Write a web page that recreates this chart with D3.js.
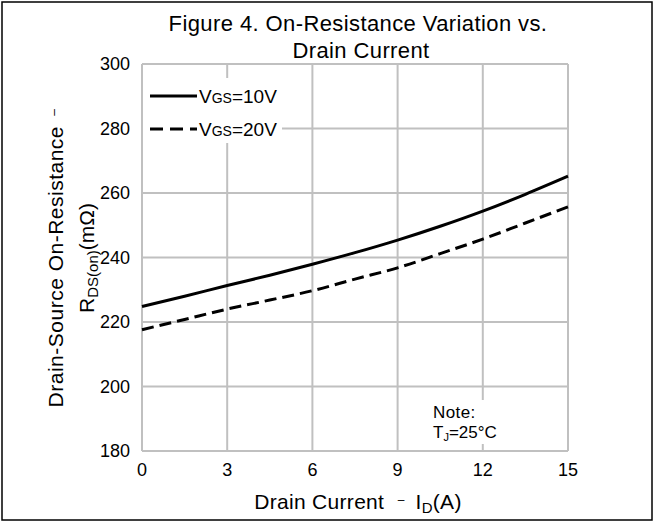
<!DOCTYPE html>
<html>
<head>
<meta charset="utf-8">
<script src="https://cdn.jsdelivr.net/npm/d3@7"></script>
<style>
  body { margin: 0; background: #fff; }
  text { font-family: "Liberation Sans", Arial, sans-serif; fill: #000; white-space: pre; }
</style>
</head>
<body>
<svg id="chart" width="656" height="524"></svg>
<script>
// drain current (A)
const current = [0, 1.5, 3, 4.5, 6, 7.5, 9, 10.5, 12, 13.5, 15]
// RDS(on) in mOhm
const rds10V = [224.8, 228.0, 231.3, 234.5, 237.9, 241.5, 245.4, 249.7, 254.4, 259.6, 265.2]
const rds20V = [217.6, 220.8, 224.0, 226.8, 229.7, 233.3, 236.8, 241.2, 245.7, 250.7, 255.7]
const xTicks = [0, 3, 6, 9, 12, 15]
const yTicks = [180, 200, 220, 240, 260, 280, 300]

const svg = d3.select('#chart')

// outer frame
svg.append('rect')
    .attr('x', 2).attr('y', 2)
    .attr('width', 650).attr('height', 518)
    .attr('fill', 'none').attr('stroke', '#000').attr('stroke-width', 1.5)

const x = d3.scaleLinear().domain([0, 15]).range([142, 568])
const y = d3.scaleLinear().domain([180, 300]).range([451, 64])

// grid
const grid = svg.append('g')
grid.selectAll('line.v').data(xTicks).enter().append('line')
    .attr('x1', d => x(d)).attr('x2', d => x(d))
    .attr('y1', y(180)).attr('y2', y(300))
    .attr('stroke', '#c0c0c0').attr('stroke-width', 2)
grid.selectAll('line.h').data(yTicks).enter().append('line')
    .attr('x1', x(0)).attr('x2', x(15))
    .attr('y1', d => y(d)).attr('y2', d => y(d))
    .attr('stroke', '#c0c0c0').attr('stroke-width', 2)

// tick labels
svg.append('g').selectAll('text').data(yTicks).enter().append('text')
    .attr('x', 130).attr('y', d => y(d))
    .attr('dy', '0.35em')
    .attr('text-anchor', 'end')
    .style('font-size', '18px')
    .text(d => d)

svg.append('g').selectAll('text').data(xTicks).enter().append('text')
    .attr('x', d => x(d)).attr('y', 476)
    .attr('text-anchor', 'middle')
    .style('font-size', '18px')
    .text(d => d)

// curves
const line = d3.line()
    .x((d, i) => x(current[i]))
    .y(d => y(d))
    .curve(d3.curveMonotoneX)

svg.append('path').datum(rds10V)
    .attr('d', line)
    .attr('fill', 'none').attr('stroke', '#000').attr('stroke-width', 3)

svg.append('path').datum(rds20V)
    .attr('d', line)
    .attr('fill', 'none').attr('stroke', '#000').attr('stroke-width', 3)
    .attr('stroke-dasharray', '12,6')

// legend
svg.append('rect')
    .attr('x', 143).attr('y', 78).attr('width', 139).attr('height', 65)
    .attr('fill', '#fff')

let legend = [
    { label: '=10V', dash: null, yy: 96 },
    { label: '=20V', dash: '13,7', yy: 129 }
]
let lg = svg.append('g').selectAll('g').data(legend).enter().append('g')
lg.append('line')
    .attr('x1', 150).attr('x2', 197)
    .attr('y1', d => d.yy).attr('y2', d => d.yy)
    .attr('stroke', '#000').attr('stroke-width', 3)
    .attr('stroke-dasharray', d => d.dash)
let lt = lg.append('text')
    .attr('x', 199).attr('y', d => d.yy + 7)
    .style('font-size', '19px')
lt.append('tspan').text('V')
lt.append('tspan').style('font-size', '14px').text('GS')
lt.append('tspan').text(d => d.label)

// note
svg.append('rect')
    .attr('x', 428).attr('y', 400).attr('width', 78).attr('height', 44)
    .attr('fill', '#fff')
svg.append('text').attr('x', 433).attr('y', 418)
    .style('font-size', '17px').style('letter-spacing', '0.4px').text('Note:')
let nt = svg.append('text').attr('x', 433).attr('y', 438).style('font-size', '17px')
nt.append('tspan').text('T')
nt.append('tspan').attr('dy', 3).style('font-size', '11px').text('J')
nt.append('tspan').attr('dy', -3).text('=25°C')

// title
svg.append('text').attr('x', 358).attr('y', 31)
    .attr('text-anchor', 'middle').style('font-size', '22px').style('letter-spacing', '0.4px')
    .text('Figure 4. On-Resistance Variation vs.')
svg.append('text').attr('x', 361).attr('y', 58)
    .attr('text-anchor', 'middle').style('font-size', '22px').style('letter-spacing', '0.4px')
    .text('Drain Current')

// x axis title
let xt = svg.append('text').attr('x', 358).attr('y', 509)
    .attr('text-anchor', 'middle').style('font-size', '21px').style('letter-spacing', '0.3px')
xt.append('tspan').text('Drain Current ')
xt.append('tspan').attr('dy', -5).style('font-size', '12px').text('  \u2013   ')
xt.append('tspan').attr('dy', 5).text('I')
xt.append('tspan').attr('dy', 4).style('font-size', '15px').text('D')
xt.append('tspan').attr('dy', -4).text('(A)')

// y axis title
let yt = svg.append('g').attr('transform', 'translate(63,258) rotate(-90)')
let y1 = yt.append('text').attr('text-anchor', 'middle').style('font-size', '21px').style('letter-spacing', '0.5px')
y1.append('tspan').text('Drain-Source On-Resistance ')
y1.append('tspan').attr('dy', -5).style('font-size', '12px').text(' \u2013')
let y2 = yt.append('text').attr('y', 31).attr('text-anchor', 'middle').style('font-size', '21px')
y2.append('tspan').text('R')
y2.append('tspan').attr('dy', 4).style('font-size', '15px').text('DS(on)')
y2.append('tspan').attr('dy', -4).text('(m\u03A9)')
</script>
</body>
</html>
